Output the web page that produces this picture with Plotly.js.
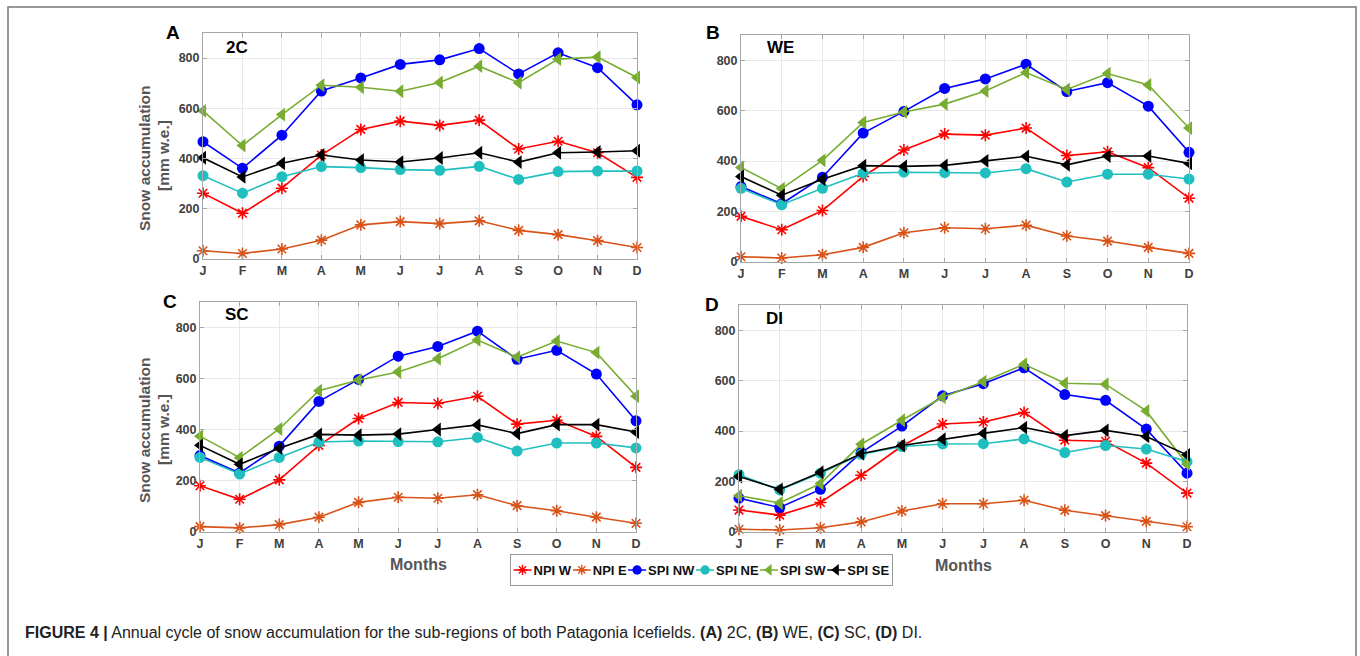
<!DOCTYPE html>
<html>
<head>
<meta charset="utf-8">
<script src="https://cdn.plot.ly/plotly-3.0.1.min.js"></script>
<style>html,body{margin:0;padding:0;background:#fff;}#chart{width:1360px;height:656px;}</style>
</head>
<body>
<div id="chart"></div>
<script>
// ---- data ----
const months = ['J','F','M','A','M','J','J','A','S','O','N','D'];
const seriesNames = ['NPI W','NPI E','SPI NW','SPI NE','SPI SW','SPI SE'];

// Panel A: 2C
const a_npiW  = [262,182,282,414,516,549,532,553,438,469,423,325];
const a_npiE  = [33,22,40,75,136,149,141,152,114,97,73,46];
const a_spiNW = [467,361,493,669,721,775,793,838,737,821,762,614];
const a_spiNE = [332,262,328,368,364,356,353,369,317,348,350,350];
const a_spiSW = [590,452,575,692,684,668,703,768,702,796,804,723];
const a_spiSE = [403,327,381,414,394,386,402,423,386,423,426,431];

// Panel B: WE
const b_npiW  = [181,128,204,339,444,507,503,531,422,437,374,253];
const b_npiE  = [21,16,29,58,116,136,132,146,103,83,58,34];
const b_spiNW = [299,231,336,511,597,688,726,784,676,711,618,435];
const b_spiNE = [292,227,292,352,356,354,353,370,317,348,348,329];
const b_spiSW = [375,291,403,553,595,626,678,751,684,747,702,531];
const b_spiSE = [339,265,328,382,379,383,401,419,385,420,420,391];

// Panel C: SC
const c_npiW  = [181,128,204,339,444,507,503,531,422,437,374,253];
const c_npiE  = [21,16,29,58,116,136,132,146,103,83,58,34];
const c_spiNW = [299,231,336,511,597,688,726,786,676,711,618,435];
const c_spiNE = [292,227,292,352,356,354,353,370,317,348,348,329];
const c_spiSW = [375,291,403,553,595,626,678,751,684,747,702,531];
const c_spiSE = [339,265,328,382,379,383,401,419,385,420,420,391];

// Panel D: DI
const d_npiW  = [87,67,117,225,341,428,436,474,364,360,273,154];
const d_npiE  = [11,8,17,40,83,112,112,126,86,65,42,21];
const d_spiNW = [134,97,169,315,420,540,588,651,545,522,408,233];
const d_spiNE = [227,167,233,308,339,349,350,369,315,343,329,279];
const d_spiSW = [144,115,192,348,443,534,596,665,590,586,480,269];
const d_spiSE = [220,169,237,310,343,368,391,414,382,403,379,306];

const yTicks = [0,200,400,600,800];

// ---- styles ----
const colors = ['#ff0000','#D95319','#0000ff','#1fbfbf','#77AC30','#000000'];
const symbols = ['asterisk-open','asterisk-open','circle','circle','triangle-left','triangle-left'];
const sizes = [10,10,11,11,12,12];

const panels = [
  {id:'', data:[a_npiW,a_npiE,a_spiNW,a_spiNE,a_spiSW,a_spiSE]},
  {id:'2', data:[b_npiW,b_npiE,b_spiNW,b_spiNE,b_spiSW,b_spiSE]},
  {id:'3', data:[c_npiW,c_npiE,c_spiNW,c_spiNE,c_spiSW,c_spiSE]},
  {id:'4', data:[d_npiW,d_npiE,d_spiNW,d_spiNE,d_spiSW,d_spiSE]}
];
const xIdx = months.map((m,i)=>i);

const traces = [];
panels.forEach((p,pi)=>{
  p.data.forEach((vals,si)=>{
    traces.push({
      type:'scatter', mode:'lines+markers',
      x:xIdx, y:vals, name:seriesNames[si],
      xaxis:'x'+p.id, yaxis:'y'+p.id,
      showlegend: pi===0,
      line:{color:colors[si], width:1.6},
      marker:{symbol:symbols[si], size:sizes[si], color:colors[si],
              line:{color:colors[si], width: si<2 ? 1.6 : 0}},
      cliponaxis:false
    });
  });
});

const W=1360, H=656;
function px(x){return x/W;}
function py(y){return 1-y/H;}
const domains = [
  {x:[px(203),px(637)], y:[py(259),py(33)]},
  {x:[px(741),px(1189)], y:[py(262),py(35)]},
  {x:[px(200),px(636)], y:[py(532),py(302)]},
  {x:[px(739),px(1187)], y:[py(532),py(305)]}
];

const tickFont = {family:'Liberation Sans, Arial, sans-serif', size:12.5, color:'#404040', weight:'bold'};
const layout = {
  width:W, height:H, margin:{l:0,r:0,t:0,b:0},
  paper_bgcolor:'#fff', plot_bgcolor:'#fff',
  showlegend:true,
  legend:{orientation:'h', x:0.514, xanchor:'center', y:py(570), yanchor:'middle',
          font:{family:'Liberation Sans, Arial, sans-serif', size:13, color:'#111', weight:'bold'},
          bordercolor:'#999', borderwidth:1, bgcolor:'#fff',
          itemwidth:30, tracegroupgap:0},
  annotations:[], shapes:[]
};
panels.forEach((p,i)=>{
  const xa = 'xaxis'+p.id, ya='yaxis'+p.id;
  layout[xa] = {domain:domains[i].x, anchor:'y'+p.id, range:[0,11],
    tickvals:xIdx, ticktext:months, tickfont:tickFont,
    showgrid:true, gridcolor:'#e8e8e8', gridwidth:1,
    showline:true, linecolor:'#a6a6a6', linewidth:1, mirror:'ticks',
    ticks:'inside', ticklen:4, tickcolor:'#a6a6a6', zeroline:false, fixedrange:true};
  layout[ya] = {domain:domains[i].y, anchor:'x'+p.id, range:[0,900],
    tickvals:yTicks, tickfont:tickFont,
    showgrid:true, gridcolor:'#e8e8e8', gridwidth:1,
    showline:true, linecolor:'#a6a6a6', linewidth:1, mirror:'ticks',
    ticks:'inside', ticklen:4, tickcolor:'#a6a6a6', zeroline:false, fixedrange:true};
});

function ann(text,x,y,opts){
  layout.annotations.push(Object.assign({text:text, x:px(x), y:py(y), xref:'paper', yref:'paper',
    showarrow:false, xanchor:'center', yanchor:'middle'}, opts||{}));
}
const bold = (s,c)=>({family:'Liberation Sans, Arial, sans-serif', size:s, color:c, weight:'bold'});
// panel letters
ann('A',173,32,{font:bold(19,'#000')});
ann('B',713,32,{font:bold(19,'#000')});
ann('C',170,301,{font:bold(19,'#000')});
ann('D',712,304,{font:bold(19,'#000')});
// region titles
ann('2C',237,47,{font:bold(17,'#000')});
ann('WE',780,48,{font:bold(17,'#000')});
ann('SC',237,314,{font:bold(17,'#000')});
ann('DI',774,318,{font:bold(17,'#000')});
// y titles
ann('Snow accumulation',144,158,{font:bold(15.5,'#555'), textangle:-90});
ann('[mm w.e.]',163,156,{font:bold(15.5,'#555'), textangle:-90});
ann('Snow accumulation',144,430,{font:bold(15.5,'#555'), textangle:-90});
ann('[mm w.e.]',163,430,{font:bold(15.5,'#555'), textangle:-90});
// x titles
ann('Months',418,564,{font:bold(16,'#555')});
ann('Months',963,565,{font:bold(16,'#555')});
// caption
ann('<b>FIGURE 4 |</b> Annual cycle of snow accumulation for the sub-regions of both Patagonia Icefields. <b>(A)</b> 2C, <b>(B)</b> WE, <b>(C)</b> SC, <b>(D)</b> DI.',
    23,632,{xanchor:'left', font:{family:'Liberation Sans, Arial, sans-serif', size:16, color:'#222'}});

// outer frame
layout.shapes.push({type:'rect', xref:'paper', yref:'paper', x0:px(8), x1:px(1356), y0:py(700), y1:py(7),
  line:{color:'#777', width:1.5}, fillcolor:'rgba(0,0,0,0)', layer:'above'});

const reT = /translate\(\s*([-\d.e]+)[ ,]+([-\d.e]+)\s*\)/;
Plotly.newPlot('chart', traces, layout, {displayModeBar:false, staticPlot:true}).then(gd=>{
  // compact the legend entries (short symbol, tight text) like the reference
  const leg = gd.querySelector('.legend');
  if(!leg) return;
  leg.querySelectorAll('g.groups').forEach(g=>g.setAttribute('transform','translate(0,0)'));
  const items = leg.querySelectorAll('g.traces');
  const pad = 4, symW = 18, txtX = 20, gap = 1;
  let off = 0, yT0 = null;
  items.forEach(it=>{
    const m = reT.exec(it.getAttribute('transform')||'');
    if(yT0===null) yT0 = m ? parseFloat(m[2]) : 12;
    it.querySelectorAll('.legendlines path').forEach(p=>p.setAttribute('d','M0,0h'+symW));
    it.querySelectorAll('.legendpoints path').forEach(p=>p.setAttribute('transform','translate('+(symW/2)+',0) scale(0.85)'));
    const txt = it.querySelector('text.legendtext');
    let tw = 40;
    if(txt){ txt.setAttribute('x', txtX); tw = txt.getBBox().width; }
    it.setAttribute('transform','translate('+(pad+off)+','+yT0+')');
    off += txtX + tw + gap;
  });
  const totalW = pad + off + 2;
  const bg = leg.querySelector('rect.bg');
  if(bg) bg.setAttribute('width', totalW);
  const lm = reT.exec(leg.getAttribute('transform')||'');
  const ly = lm ? parseFloat(lm[2]) : 560;
  leg.setAttribute('transform','translate('+(701 - totalW/2)+','+ly+')');
});
</script>
</body>
</html>
